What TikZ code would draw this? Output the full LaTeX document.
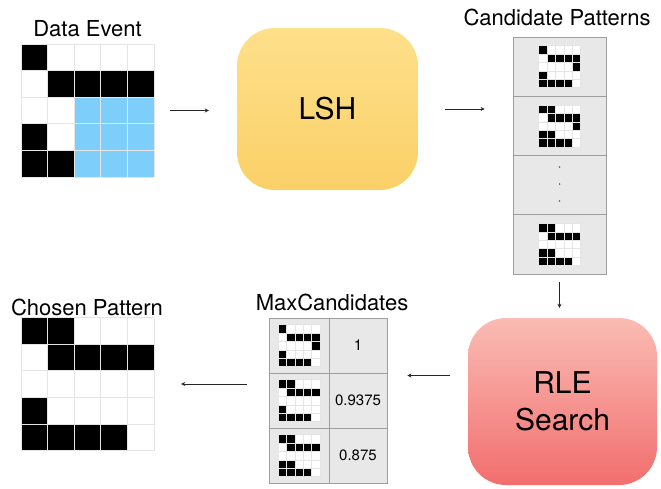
\documentclass[tikz,border=0pt]{standalone}
\usepackage{fontspec}
\setmainfont{TeX Gyre Heros}
\usetikzlibrary{arrows.meta}

\definecolor{lshtop}{RGB}{254,224,138}
\definecolor{lshbot}{RGB}{250,208,104}
\definecolor{rletop}{RGB}{250,188,180}
\definecolor{rlebot}{RGB}{242,110,110}
\definecolor{eventblue}{RGB}{125,206,250}

\tikzset{
  flow/.style={draw=black!85, line width=0.9pt, -{Stealth[length=4pt,width=4pt]}},
  title/.style={anchor=base, inner sep=0pt, font=\fontsize{22}{25}\selectfont},
  stage/.style={rectangle, rounded corners=38pt, align=center, font=\fontsize{30}{37}\selectfont},
  cellbox/.style={rectangle, draw=black!38, line width=0.8pt, fill=black!9, inner sep=0pt, font=\fontsize{15}{17}\selectfont},
  gridbox/.style={rectangle, inner sep=0pt, minimum size=133},
  gridln/.style={draw=black!10}
}

\newcommand{\pixpattern}[5][]{%
  \begin{scope}[shift={(#2,#3)}]
    \fill[white] (0,0) rectangle (5*#4,5*#4);
    #1
    \foreach \px/\py in #5
      \fill[black] (\px*#4,\py*#4) rectangle ++(#4,#4);
    \foreach \k in {0,...,5}{
      \draw[gridln, line width={0.03*#4}] (\k*#4,0) -- (\k*#4,5*#4);
      \draw[gridln, line width={0.03*#4}] (0,\k*#4) -- (5*#4,\k*#4);
    }
  \end{scope}}

\newcommand{\patOne}{0/0,1/1,2/1,3/1,4/1,4/2,0/3,0/4,1/4,2/4,3/4}
\newcommand{\patTwo}{0/0,1/0,1/1,2/1,3/1,4/1,4/2,0/3,1/3,0/4,1/4,2/4,3/4}
\newcommand{\patThree}{0/0,1/0,1/1,2/1,3/1,4/1,0/3,1/3,0/4,1/4,2/4,3/4}
\newcommand{\patBest}{0/0,1/0,1/1,2/1,3/1,4/1,0/3,0/4,1/4,2/4,3/4}

\begin{document}
\begin{tikzpicture}[x=1pt, y=-1pt]
  \useasboundingbox (0,0) rectangle (661,488);

  \node[title] (eventtitle) at (87.5,36) {Data Event};
  \node[gridbox] (event) at (87.5,110.5) {};
  \pixpattern[{\fill[eventblue] (53.2,53.2) rectangle (133,133);}]{21}{44}{26.6}{{0/0,1/1,2/1,3/1,4/1,0/3,0/4,1/4}}

  \node[stage, top color=lshtop, bottom color=lshbot, minimum width=181, minimum height=162] (lsh) at (327.5,109) {LSH};

  \node[title] (candtitle) at (557,25) {Candidate Patterns};
  \node[cellbox, minimum width=93, minimum height=59.25] (cand1) at (559.5,66.6) {};
  \node[cellbox, minimum width=93, minimum height=59.25] (cand2) at (559.5,125.9) {};
  \node[cellbox, minimum width=93, minimum height=59.25] (cand3) at (559.5,185.1) {};
  \node[cellbox, minimum width=93, minimum height=59.25] (cand4) at (559.5,244.4) {};
  \pixpattern{538.5}{45.6}{8.4}{\patOne}
  \pixpattern{538.5}{104.9}{8.4}{\patTwo}
  \foreach \dy in {-18,-1,16}
    \fill[black!60] ([yshift=-\dy pt]cand3.center) circle (0.9pt);
  \pixpattern{538.5}{223.4}{8.4}{\patThree}

  \node[stage, top color=rletop, bottom color=rlebot, minimum width=189, minimum height=167] (rle) at (562.5,401.5) {RLE\\Search};

  \node[title] (maxtitle) at (332,310) {MaxCandidates};
  \node[cellbox, minimum width=60, minimum height=55] (m1p) at (299,345.5) {};
  \node[cellbox, minimum width=58, minimum height=55] (m1v) at (358,345.5) {1};
  \node[cellbox, minimum width=60, minimum height=55] (m2p) at (299,400.5) {};
  \node[cellbox, minimum width=58, minimum height=55] (m2v) at (358,400.5) {0.9375};
  \node[cellbox, minimum width=60, minimum height=55] (m3p) at (299,455.5) {};
  \node[cellbox, minimum width=58, minimum height=55] (m3v) at (358,455.5) {0.875};
  \pixpattern{278}{324.5}{8.4}{\patOne}
  \pixpattern{278}{379.5}{8.4}{\patBest}
  \pixpattern{278}{434.5}{8.4}{\patThree}

  \node[title] (chosentitle) at (87,315) {Chosen Pattern};
  \node[gridbox] (chosen) at (87.5,384) {};
  \pixpattern{21}{317.5}{26.6}{\patBest}

  \draw[flow, shorten <=16pt, shorten >=28pt] (event.east) -- (event.east -| lsh.west);
  \draw[flow, shorten <=27pt, shorten >=28pt] (lsh.east) -- (lsh.east -| cand1.west);
  \draw[flow, shorten <=8pt, shorten >=10pt] (cand4.south) -- (cand4.south |- rle.north);
  \draw[flow, shorten <=18pt, shorten >=20pt] ([yshift=26pt]rle.west) -- ([yshift=26pt]rle.west -| m2v.east);
  \draw[flow, shorten <=22pt, shorten >=27pt] (m2p.west |- chosen.east) -- (chosen.east);
\end{tikzpicture}
\end{document}
